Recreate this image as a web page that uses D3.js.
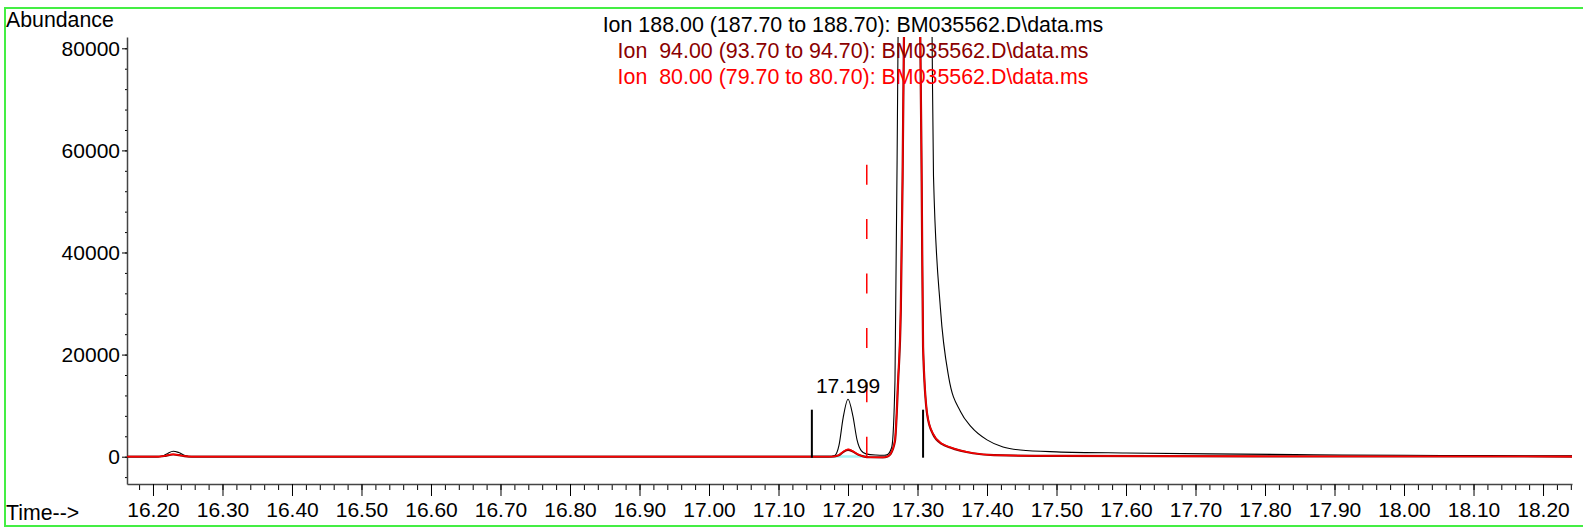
<!DOCTYPE html>
<html>
<head>
<meta charset="utf-8">
<script src="https://cdn.jsdelivr.net/npm/d3@7"></script>
<style>
  body { margin: 0; background: #fff; }
  svg text { font-family: "Liberation Sans", Arial, sans-serif; }
</style>
</head>
<body>
<script>

// time (min), abundance pairs
var ion188 = [
  [16.163, 0], [16.205, 0], [16.214, 120], [16.221, 650], [16.229, 1080], [16.237, 820],
  [16.246, 250], [16.256, 0], [16.60, 0], [17.00, 0], [17.172, 0], [17.181, 250],
  [17.187, 2200], [17.193, 7600], [17.200, 11260], [17.207, 8000], [17.213, 3300],
  [17.219, 1200], [17.226, 550], [17.240, 330], [17.252, 280], [17.257, 450],
  [17.263, 1900], [17.2676, 15000], [17.272, 82000], [17.279, 200000], [17.296, 300000],
  [17.313, 200000], [17.321, 82000], [17.323, 55000], [17.333, 29000], [17.345, 15500],
  [17.362, 8800], [17.377, 5900], [17.400, 3300], [17.423, 1900], [17.448, 1300],
  [17.50, 950], [17.60, 720], [17.72, 560], [17.87, 380], [18.00, 280], [18.12, 200],
  [18.242, 150]
];

var ion94 = [
  [16.163, 0], [16.208, 0], [16.216, 130], [16.229, 430], [16.242, 180], [16.256, 0],
  [17.176, 0], [17.186, 220], [17.193, 900], [17.200, 1350], [17.207, 1000], [17.215, 360],
  [17.222, 70], [17.232, -110], [17.250, -140], [17.257, 50], [17.261, 480],
  [17.2676, 3100], [17.272, 14500], [17.276, 29000], [17.2785, 54000], [17.2805, 82000],
  [17.292, 130000], [17.304, 82000], [17.306, 54000], [17.308, 21500], [17.314, 8200],
  [17.322, 4500], [17.335, 2500], [17.347, 1800], [17.38, 680], [17.41, 300],
  [17.50, 140], [17.80, 70], [18.242, 30]
];

var ion80 = [
  [16.163, 0], [16.208, 0], [16.216, 150], [16.229, 480], [16.242, 200], [16.256, 0],
  [17.176, 0], [17.186, 250], [17.193, 1000], [17.200, 1470], [17.207, 1100], [17.215, 400],
  [17.222, 80], [17.232, -120], [17.250, -150], [17.257, 50], [17.261, 500],
  [17.2676, 3230], [17.272, 15000], [17.276, 30000], [17.2785, 55000], [17.2805, 82000],
  [17.292, 140000], [17.304, 82000], [17.306, 55000], [17.308, 22000], [17.314, 8400],
  [17.322, 4600], [17.335, 2600], [17.347, 1860], [17.38, 700], [17.41, 320],
  [17.50, 150], [17.80, 80], [18.242, 40]
];

// integration baseline under the 17.199 peak
var peakBaseline = [[17.148, 60], [17.227, 60]];

var peakLabel = {time: 17.200, value: 11260, text: "17.199"};
var integrationTicks = [17.148, 17.308];
var peakEnd = 17.227;

var xTickLabels = ["16.20", "16.30", "16.40", "16.50", "16.60", "16.70", "16.80", "16.90",
  "17.00", "17.10", "17.20", "17.30", "17.40", "17.50", "17.60", "17.70", "17.80", "17.90",
  "18.00", "18.10", "18.20"];
var yTickLabels = [0, 20000, 40000, 60000, 80000];

var legendLines = [
  "Ion 188.00 (187.70 to 188.70): BM035562.D\\data.ms",
  "Ion  94.00 (93.70 to 94.70): BM035562.D\\data.ms",
  "Ion  80.00 (79.70 to 80.70): BM035562.D\\data.ms"
];

var width = 1583,
    height = 529;

var x = d3.scaleLinear().domain([16.1626, 18.2417]).range([127, 1572]);
var y = d3.scaleLinear().domain([-5350, 82213]).range([484, 37]);

var svg = d3.select("body").append("svg")
    .attr("width", width)
    .attr("height", height);

// green frame
svg.append("rect")
    .attr("x", 5).attr("y", 8)
    .attr("width", width + 20).attr("height", 518)
    .attr("fill", "none")
    .attr("stroke", "#44ee44")
    .attr("stroke-width", 2);

svg.append("clipPath").attr("id", "plot")
  .append("rect")
    .attr("x", 127).attr("y", 37)
    .attr("width", 1572 - 127).attr("height", 484 - 37);

// axes
var xMinor = d3.range(16.18, 18.25, 0.02);
svg.append("g")
    .attr("transform", "translate(0,484)")
    .call(d3.axisBottom(x).tickValues(xMinor).tickSize(6).tickSizeOuter(0).tickFormat(""))
    .call(g => g.select(".domain").remove());

svg.append("g")
    .attr("transform", "translate(0,484)")
    .call(d3.axisBottom(x)
      .tickValues(xTickLabels.map(Number))
      .tickFormat((d, i) => xTickLabels[i])
      .tickSize(12).tickPadding(6).tickSizeOuter(0))
    .call(g => g.select(".domain").attr("stroke", "#444").attr("stroke-width", 1.5))
    .call(g => g.selectAll("text").attr("font-size", 21).attr("fill", "#000")
      .attr("font-family", "Liberation Sans, Arial, sans-serif"));

var yMinor = d3.range(-4000, 82001, 4000);
svg.append("g")
    .attr("transform", "translate(127,0)")
    .call(d3.axisLeft(y).tickValues(yMinor).tickSize(2).tickSizeOuter(0).tickFormat(""))
    .call(g => g.select(".domain").remove());

svg.append("g")
    .attr("transform", "translate(127,0)")
    .call(d3.axisLeft(y).tickValues(yTickLabels).tickFormat(d => d)
      .tickSize(5).tickPadding(2).tickSizeOuter(0))
    .call(g => g.select(".domain").attr("stroke", "#444").attr("stroke-width", 1.5))
    .call(g => g.selectAll("text").attr("font-size", 21).attr("fill", "#000")
      .attr("font-family", "Liberation Sans, Arial, sans-serif"));

svg.append("text")
    .attr("x", 6).attr("y", 27)
    .attr("font-size", 21.3)
    .text("Abundance");

svg.append("text")
    .attr("x", 6).attr("y", 520)
    .attr("font-size", 21.3)
    .text("Time-->");

// traces
var line = d3.line()
    .x(d => x(d[0]))
    .y(d => y(d[1]))
    .curve(d3.curveMonotoneX);

var plot = svg.append("g").attr("clip-path", "url(#plot)");

plot.append("path").datum(peakBaseline)
    .attr("d", line).attr("fill", "none")
    .attr("stroke", "#a8f4f4").attr("stroke-width", 2.5);

plot.append("path").datum(ion188)
    .attr("d", line).attr("fill", "none")
    .attr("stroke", "#000").attr("stroke-width", 1.1);

plot.append("path").datum(ion94)
    .attr("d", line).attr("fill", "none")
    .attr("stroke", "#8b0000").attr("stroke-width", 2.2);

plot.append("path").datum(ion80)
    .attr("d", line).attr("fill", "none")
    .attr("stroke", "#ff0000").attr("stroke-width", 1.3);

// integration marks
plot.selectAll(".itick").data(integrationTicks).enter().append("line")
    .attr("x1", d => x(d)).attr("x2", d => x(d))
    .attr("y1", y(0) + 1).attr("y2", y(0) - 47)
    .attr("stroke", "#000").attr("stroke-width", 2);

plot.append("line")
    .attr("x1", x(peakEnd)).attr("x2", x(peakEnd))
    .attr("y1", y(0) - 292).attr("y2", y(0) + 1)
    .attr("stroke", "#ff0000").attr("stroke-width", 1.5)
    .attr("stroke-dasharray", "20,34.4");

svg.append("text")
    .attr("x", x(peakLabel.time)).attr("y", y(peakLabel.value) - 6)
    .attr("text-anchor", "middle")
    .attr("font-size", 21)
    .text(peakLabel.text);

// legend
var legendColors = ["#000000", "#8b0000", "#ff0000"];
svg.selectAll(".legend").data(legendLines).enter().append("text")
    .attr("x", 853)
    .attr("y", (d, i) => 31.5 + i * 26)
    .attr("text-anchor", "middle")
    .attr("font-size", 21.4)
    .attr("fill", (d, i) => legendColors[i])
    .attr("xml:space", "preserve")
    .style("white-space", "pre")
    .text(d => d);

</script>
</body>
</html>
